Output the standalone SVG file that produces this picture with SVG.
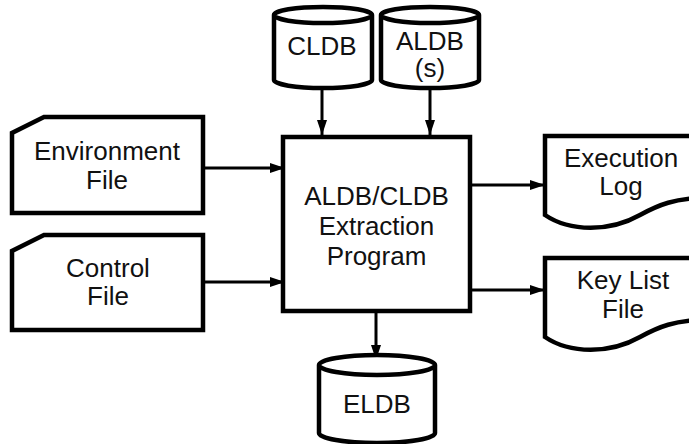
<svg xmlns="http://www.w3.org/2000/svg" width="689" height="444" viewBox="0 0 689 444">
<style>
.shape{fill:#fff;stroke:#000;stroke-width:4.5;stroke-linejoin:miter}
.line{fill:none;stroke:#000;stroke-width:3}
.lbl{font-family:"Liberation Sans",Arial,sans-serif;font-size:26px;fill:#111;text-anchor:middle}
</style>
<defs>
<marker id="ah" markerUnits="userSpaceOnUse" markerWidth="16" markerHeight="12" viewBox="0 0 16 12" refX="15" refY="6" orient="auto">
<path d="M0,1 L15,6 L0,11 Z" fill="#000"/>
</marker>
</defs>
<rect width="689" height="444" fill="#fff"/>
<g id="connectors">
<line class="line" x1="322" y1="88" x2="322" y2="135" marker-end="url(#ah)"/>
<line class="line" x1="430" y1="84" x2="430" y2="135" marker-end="url(#ah)"/>
<line class="line" x1="203" y1="168" x2="285" y2="168" marker-end="url(#ah)"/>
<line class="line" x1="203" y1="282" x2="285" y2="282" marker-end="url(#ah)"/>
<line class="line" x1="470" y1="185" x2="545" y2="185" marker-end="url(#ah)"/>
<line class="line" x1="470" y1="290" x2="545" y2="290" marker-end="url(#ah)"/>
<line class="line" x1="376" y1="311" x2="376" y2="360" marker-end="url(#ah)"/>
</g>
<g id="cldb">
<path class="shape" d="M274,15 L274,80 A49,8 0 0 0 372,80 L372,15 A49,8 0 0 0 274,15 Z M274,15 A49,8 0 0 0 372,15"/>
<text class="lbl" x="322" y="55">CLDB</text>
</g>
<g id="aldb">
<path class="shape" d="M381,15 L381,80 A49,8 0 0 0 479,80 L479,15 A49,8 0 0 0 381,15 Z M381,15 A49,8 0 0 0 479,15"/>
<text class="lbl" x="430" y="50">ALDB</text>
<text class="lbl" x="430" y="77">(s)</text>
</g>
<g id="env">
<path class="shape" d="M44,117 L203,117 L203,213 L12,213 L12,133 Z"/>
<text class="lbl" x="107" y="160">Environment</text>
<text class="lbl" x="107" y="189">File</text>
</g>
<g id="control">
<path class="shape" d="M44,235 L203,235 L203,330 L12,330 L12,251 Z"/>
<text class="lbl" x="108" y="277">Control</text>
<text class="lbl" x="108" y="305">File</text>
</g>
<g id="program">
<rect class="shape" x="283" y="137" width="187" height="174"/>
<text class="lbl" x="376.5" y="205">ALDB/CLDB</text>
<text class="lbl" x="376.5" y="235">Extraction</text>
<text class="lbl" x="376.5" y="265">Program</text>
</g>
<g id="execlog">
<path class="shape" d="M700,136 L545,136 L545,215 C570,232 610,232 640,215 C660,204 675,199 700,198"/>
<text class="lbl" x="621" y="167">Execution</text>
<text class="lbl" x="621" y="195">Log</text>
</g>
<g id="keylist">
<path class="shape" d="M700,258 L545,258 L545,337 C570,354 610,354 640,337 C660,326 675,321 700,320"/>
<text class="lbl" x="623" y="289">Key List</text>
<text class="lbl" x="623" y="318">File</text>
</g>
<g id="eldb">
<path class="shape" d="M319,365 L319,433 A58,10 0 0 0 435,433 L435,365 A58,10 0 0 0 319,365 Z M319,365 A58,10 0 0 0 435,365"/>
<text class="lbl" x="377" y="413">ELDB</text>
</g>
</svg>
